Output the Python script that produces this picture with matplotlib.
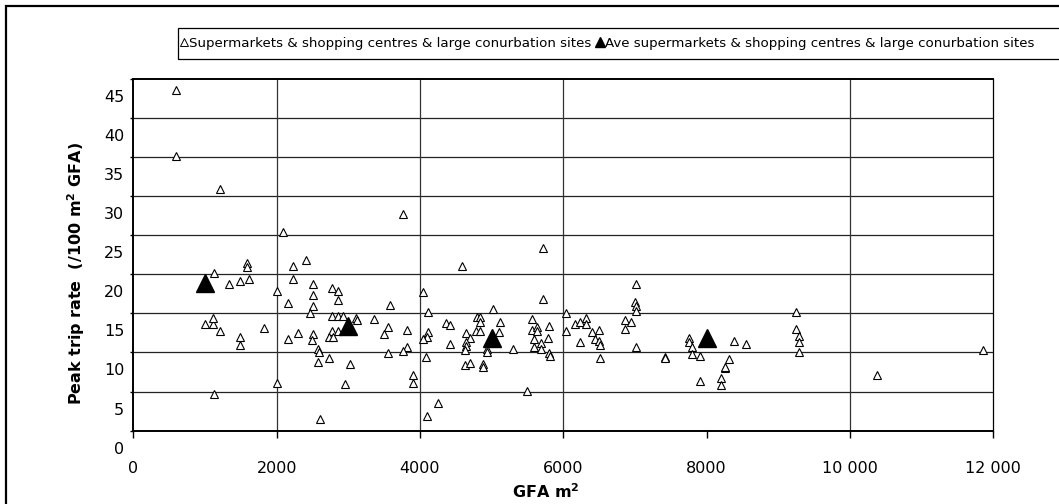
import numpy as np
import matplotlib
matplotlib.use("Agg")
import matplotlib.pyplot as plt
from matplotlib.patches import Rectangle
from matplotlib.lines import Line2D
from matplotlib.transforms import ScaledTranslation

# individual sites: GFA (m2) and peak trip rate (/100 m2 GFA)
site_gfa = [600, 600, 1214, 3762, 2093, 5715, 1121, 1582, 1582, 1335, 1488, 1614,
            2228, 2405, 2228, 2000, 2511, 2511, 2511, 2158, 2461, 2776, 2851, 2851,
            2776, 2851, 2925, 3111, 3116, 996, 1107, 1116, 1209, 1488, 1488, 1828,
            2158, 2302, 2511, 2497, 2776, 2851, 2730, 2786, 2577, 2591, 2577, 2725,
            3018, 2953, 2000, 1121, 2600, 3358, 3585, 3553, 3496, 3814, 3553, 3814,
            3758, 3906, 3906, 4046, 4115, 4115, 4092, 4046, 4083, 4255, 4092, 4590,
            4358, 4418, 4418, 4790, 4836, 4836, 5013, 5120, 5097, 4781, 4836, 4641,
            4697, 4641, 4641, 4627, 4939, 4939, 4627, 4697, 4874, 4874, 5293, 5488,
            5715, 5558, 5558, 5595, 5595, 5627, 5627, 5803, 5786, 5688, 5688, 5803,
            5812, 6036, 6036, 6166, 6236, 6319, 6319, 6236, 6399, 6445, 6492, 6492,
            6506, 6506, 6855, 6947, 6865, 7017, 7003, 7017, 7017, 7017, 7421, 7421,
            7756, 7756, 7794, 7794, 7901, 7901, 8198, 8198, 8254, 8254, 8306, 8376,
            8551, 9240, 9240, 9286, 9286, 9286, 10384, 11858]
site_rate = [43.5, 35.1, 30.9, 27.7, 25.4, 23.4, 20.1, 21.5, 20.9, 18.8, 19.2, 19.4,
             21.0, 21.8, 19.4, 17.8, 18.7, 17.3, 16.0, 16.3, 15.1, 18.2, 17.8, 16.7,
             14.6, 14.6, 14.6, 14.4, 14.2, 13.6, 13.6, 14.4, 12.7, 12.0, 10.9, 13.1,
             11.7, 12.5, 12.3, 11.6, 12.8, 12.8, 12.0, 12.0, 10.4, 10.1, 8.8, 9.3,
             8.5, 6.0, 6.1, 4.7, 1.5, 14.3, 16.1, 13.2, 12.4, 12.9, 9.9, 10.7,
             10.2, 7.1, 6.1, 17.7, 15.2, 12.6, 12.0, 11.7, 9.4, 3.6, 1.9, 21.0,
             13.8, 13.5, 11.1, 14.5, 14.5, 13.9, 15.6, 13.9, 12.6, 12.8, 12.8, 12.5,
             11.9, 11.4, 10.8, 10.3, 10.5, 10.1, 8.4, 8.7, 8.5, 8.1, 10.4, 5.1,
             16.9, 14.3, 12.9, 11.7, 10.7, 13.2, 12.7, 13.4, 11.9, 11.2, 10.5, 9.9,
             9.6, 15.0, 12.7, 13.7, 13.9, 14.4, 13.7, 11.4, 12.6, 11.7, 12.9, 11.5,
             11.0, 9.3, 14.2, 13.9, 13.0, 18.7, 16.4, 15.9, 15.3, 10.7, 9.4, 9.3,
             11.9, 11.3, 10.7, 9.8, 9.6, 6.4, 6.8, 5.8, 8.0, 8.2, 9.2, 11.5,
             11.1, 15.2, 13.0, 12.1, 11.3, 10.0, 7.1, 10.3]

# band averages
ave_gfa = [1000, 3000, 5000, 8000]
ave_rate = [18.9, 13.4, 11.8, 11.8]

xticks = [0, 2000, 4000, 6000, 8000, 10000, 12000]
xtick_labels = ['0', '2000', '4000', '6000', '8000', '10 000', '12 000']
yticks = [0, 5, 10, 15, 20, 25, 30, 35, 40, 45]
vgrid = [2000, 4000, 6000, 10000]

W, H = 1059, 504
fig = plt.figure(figsize=(W / 100, H / 100), dpi=100)
ax = fig.add_axes([133.3 / W, 1 - 430.7 / H, 860 / W, 352 / H])

ax.plot(site_gfa, site_rate, linestyle='none', marker='^', ms=6, mfc='white',
        mec='black', mew=0.8, zorder=3)
ax.plot(ave_gfa, ave_rate, linestyle='none', marker='^', ms=13.5, mfc='black',
        mec='black', zorder=4)

ax.set_xlim(0, 12000)
ax.set_ylim(0, 45)
for y in yticks[1:-1]:
    ax.axhline(y, color='#222222', lw=0.9, zorder=1)
for x in vgrid:
    ax.axvline(x, color='#333333', lw=0.9, zorder=1)

ax.set_xticks(xticks)
ax.set_xticklabels(xtick_labels)
ax.set_yticks(yticks)
ax.tick_params(axis='x', direction='out', length=5, width=1, pad=17, labelsize=11.5)
ax.tick_params(axis='y', direction='out', length=2.5, width=1, pad=4, labelsize=11.5)
for s in ['left', 'bottom', 'top']:
    ax.spines[s].set_linewidth(1.4)
ax.spines['right'].set_linewidth(0.9)

# y labels sit a little below their gridlines
shift = ScaledTranslation(0, -17 / 100, fig.dpi_scale_trans)
for lab in ax.get_yticklabels():
    lab.set_transform(lab.get_transform() + shift)

fig.text(546 / W, 1 - 492 / H, 'GFA m$^\\mathbf{2}$', ha='center', va='center',
         fontsize=11.5, fontweight='bold')
fig.text(76 / W, 1 - 273 / H, 'Peak trip rate  (/100 m$^\\mathbf{2}$ GFA)', ha='center',
         va='center', rotation=90, fontsize=11.5, fontweight='bold')

# outer frame and legend box
fig.add_artist(Rectangle((6 / W, -0.1), 1.2, 1 - 6 / H + 0.1, transform=fig.transFigure,
                         fill=False, ec='black', lw=1.6))
fig.add_artist(Rectangle((178 / W, 1 - 59 / H), 1.0, 31 / H, transform=fig.transFigure,
                         fill=False, ec='black', lw=0.9))

handles = [Line2D([], [], linestyle='none', marker='^', ms=5.5, mfc='white', mec='black', mew=0.7),
           Line2D([], [], linestyle='none', marker='^', ms=6.5, mfc='black', mec='black')]
labels = ['Supermarkets & shopping centres & large conurbation sites',
          'Ave supermarkets & shopping centres & large conurbation sites']
fig.legend(handles, labels, loc='center left', bbox_to_anchor=(180 / W, 1 - 43.5 / H),
           ncol=2, frameon=False, fontsize=9.65, handlelength=0.6, handletextpad=0.1,
           columnspacing=0.3, borderpad=0, borderaxespad=0)

fig.savefig('out.png', dpi=100)
